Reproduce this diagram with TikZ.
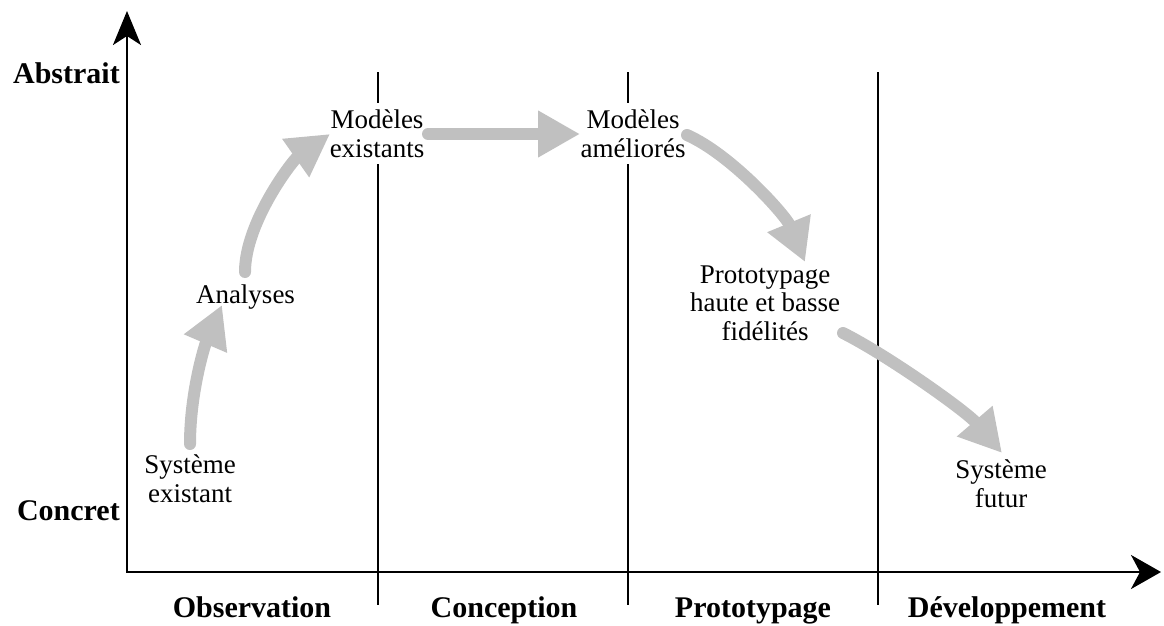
\documentclass[tikz,border=0pt]{standalone}
\usepackage{fontspec}
\setmainfont{Liberation Serif}
\usetikzlibrary{arrows.meta}
\definecolor{flowgray}{RGB}{192,192,192}
\begin{document}
\begin{tikzpicture}[x=1pt,y=1pt,
  axis/.style={line width=2.5pt, black},
  phase/.style={line width=2pt, black},
  axislabel/.style={font=\fontsize{30}{34}\selectfont\bfseries, inner sep=0pt},
  stage/.style={font=\fontsize{27}{28.5}\selectfont, align=center, fill=white, inner sep=6.5pt},
  flow/.style={line width=12pt, draw=flowgray, line cap=round,
    -{Triangle[length=42pt,width=44pt,fill=flowgray]}},
]
\useasboundingbox (0,0) rectangle (1164,-626);

% axes
\coordinate (origin) at (127,-572);
\coordinate (ytip) at (127,-11);
\coordinate (xtip) at (1161,-572);
\draw[axis, {Stealth[length=34pt,width=28pt,inset=9pt]}-{Stealth[length=30pt,width=34pt,inset=9pt]}]
  (ytip) -- (origin) -- (xtip);

% phase separators
\foreach \x in {378,628,878}
  \draw[phase] (\x,-72) -- (\x,-605);

% axis labels
\node[axislabel, anchor=base east] (abs) at (120,-84) {Abstrait};
\node[axislabel, anchor=base east] (con) at (120,-520) {Concret};
\node[axislabel, anchor=base] (obs) at (252,-617) {Observation};
\node[axislabel, anchor=base] (cpt) at (504,-617) {Conception};
\node[axislabel, anchor=base] (pty) at (753,-617) {Prototypage};
\node[axislabel, anchor=base] (dev) at (1007,-617) {Développement};

% stages
\node[stage] (se) at (190,-478.5) {Système\\existant};
\node[stage] (an) at (245.5,-297) {Analyses};
\node[stage] (me) at (377,-133.5) {Modèles\\existants};
\node[stage] (ma) at (633,-133.5) {Modèles\\améliorés};
\node[stage] (pr) at (765,-303) {Prototypage\\haute et basse\\fidélités};
\node[stage] (sf) at (1001,-483.5) {Système\\futur};

% flow between stages
\draw[flow] ([shift={(0,34.5)}]se.center) .. controls +(0,50) and +(-18,-42) .. ([shift={(-23.5,-8)}]an.center);
\draw[flow] ([shift={(-0.5,25)}]an.center) .. controls +(0,50) and +(-37,-26) .. ([shift={(-47,-0.5)}]me.center);
\draw[flow] ([shift={(51,-0.5)}]me.center) -- ([shift={(-53,-0.5)}]ma.center);
\draw[flow] ([shift={(54,-1.5)}]ma.center) .. controls +(45,-20) and +(-19,46) .. ([shift={(40,41)}]pr.center);
\draw[flow] ([shift={(78,-30)}]pr.center) .. controls +(44,-22) and +(-36,42) .. ([shift={(1,30.5)}]sf.center);
\end{tikzpicture}
\end{document}
